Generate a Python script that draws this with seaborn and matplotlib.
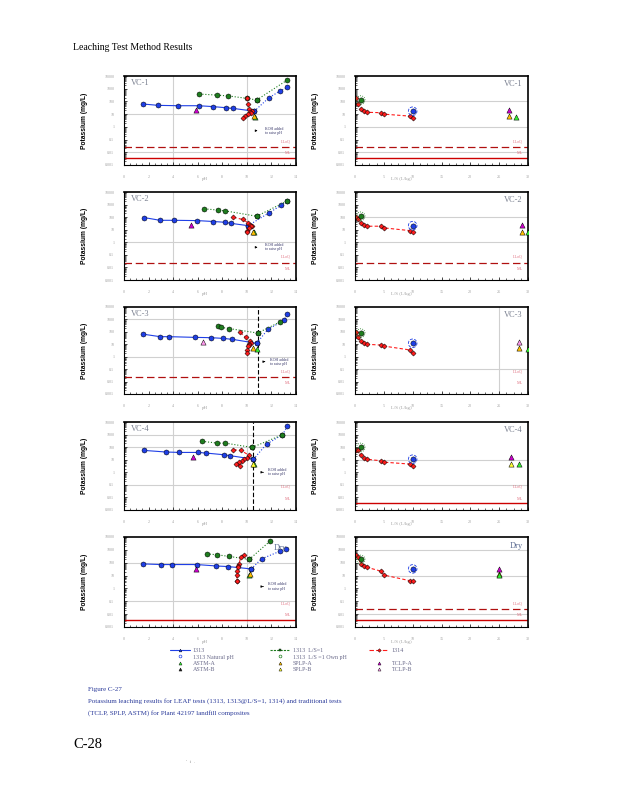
import numpy as np
import pandas as pd
import matplotlib
matplotlib.use("Agg")
import matplotlib.pyplot as plt
from matplotlib.lines import Line2D
from matplotlib.ticker import FixedLocator, NullFormatter, MultipleLocator, LogLocator
import seaborn as sns

panels = ["VC-1", "VC-2", "VC-3", "VC-4", "Dry"]

# Method 1313 (pH dependence); index of natural pH point, later points are KOH-raised
m1313_ph = {
    "VC-1": [1.52, 2.8, 4.43, 6.09, 7.28, 8.29, 8.91, 10.6, 11.8, 12.7, 13.3],
    "VC-2": [1.63, 2.93, 4.08, 5.98, 7.28, 8.23, 8.72, 10.1, 11.8, 12.77, 13.26],
    "VC-3": [1.52, 2.93, 3.7, 5.79, 7.09, 8.02, 8.83, 10.8, 11.7, 13.04, 13.3],
    "VC-4": [1.63, 3.42, 4.51, 6.0, 6.66, 8.1, 8.64, 10.54, 11.6, 12.9, 13.3],
    "Dry": [1.52, 2.99, 3.89, 5.92, 7.5, 8.5, 10.35, 11.2, 12.66, 13.2],
}
m1313_k = {
    "VC-1": [63, 49, 46, 46, 39, 32, 28, 17, 196, 660, 1250],
    "VC-2": [93, 56, 56, 53, 45, 39, 32, 21, 218, 850, 1900],
    "VC-3": [66, 41, 41, 36, 34, 30, 25, 12, 155, 870, 2600],
    "VC-4": [55, 41, 38, 38, 34, 25, 21, 11, 174, 970, 4500],
    "Dry": [81, 72, 72, 72, 56, 50, 33, 200, 760, 1070],
}
m1313_nat = {"VC-1": 7, "VC-2": 7, "VC-3": 7, "VC-4": 7, "Dry": 6}
m1313_ls = 10.0

# Method 1313 at L/S=1; index of the own-pH point
ls1_ph = {
    "VC-1": [6.14, 7.55, 8.5, 10.0, 10.8, 13.3],
    "VC-2": [6.55, 7.69, 8.23, 10.8, 13.26],
    "VC-3": [7.69, 7.9, 8.56, 10.87, 12.7],
    "VC-4": [6.36, 7.6, 8.23, 10.43, 12.9],
    "Dry": [6.74, 7.55, 8.56, 10.19, 11.9],
}
ls1_k = {
    "VC-1": [380, 316, 270, 175, 129, 4900],
    "VC-2": [457, 363, 316, 118, 1900],
    "VC-3": [288, 225, 186, 80, 630],
    "VC-4": [290, 210, 210, 95, 970],
    "Dry": [490, 415, 310, 180, 4900],
}
ls1_own = {"VC-1": 4, "VC-2": 3, "VC-3": 3, "VC-4": 3, "Dry": 3}
ls1_ls = 1.0

# Method 1314 (percolation column)
m1314_ls = [0.2, 0.5, 1.0, 1.5, 2.0, 4.5, 5.0, 9.5, 10.0]
m1314_k = {
    "VC-1": [196, 59, 25, 17, 14, 13, 10, 7, 5.3],
    "VC-2": [98, 65, 35, 22, 19, 19, 14, 8.5, 6.2],
    "VC-3": [89, 36, 18, 12, 10, 8.7, 7.2, 3.5, 1.9],
    "VC-4": [62, 55, 22, 15, 11, 8.2, 6.4, 4.5, 2.9],
    "Dry": [415, 270, 81, 60, 45, 22, 11, 4, 4],
}
m1314_ph = {
    "VC-1": [10.0, 10.08, 10.19, 10.4, 10.27, 10.3, 10.1, 9.86, 9.65],
    "VC-2": [8.9, 9.67, 10.1, 10.27, 10.4, 10.3, 10.16, 10.0, 10.05],
    "VC-3": [9.46, 9.92, 10.27, 10.3, 10.2, 10.15, 10.1, 10.05, 10.0],
    "VC-4": [8.91, 9.51, 10.2, 10.0, 9.73, 9.6, 9.4, 9.13, 9.46],
    "Dry": [9.73, 9.5, 9.37, 9.3, 9.24, 9.2, 9.18, 9.18, 9.2],
}

# Traditional single-point tests
trad_name = {
    "VC-1": ["TCLP-A", "SPLP-A", "ASTM-A"],
    "VC-2": ["TCLP-A", "SPLP-A", "ASTM-A"],
    "VC-3": ["TCLP-B", "SPLP-A", "ASTM-A"],
    "VC-4": ["TCLP-A", "SPLP-B", "ASTM-A"],
    "Dry": ["TCLP-A", "SPLP-A", "ASTM-A"],
}
trad_ph = {
    "VC-1": [5.87, 10.6, 10.7], "VC-2": [5.46, 10.5, 10.6], "VC-3": [6.41, 10.5, 10.8],
    "VC-4": [5.6, 10.54, 10.6], "Dry": [5.87, 10.27, 10.19],
}
trad_ls = {
    "VC-1": [26.7, 26.7, 27.9], "VC-2": [28.9, 28.9, 30.0], "VC-3": [28.4, 28.4, 30.0],
    "VC-4": [27.0, 27.0, 28.4], "Dry": [25.0, 25.0, 25.0],
}
trad_k = {
    "VC-1": [20, 6.8, 6.5], "VC-2": [22, 7.0, 6.6], "VC-3": [15, 4.8, 4.3],
    "VC-4": [16, 4.2, 4.2], "Dry": [30, 13, 12],
}

lloq = 0.024
ml = 0.0033

blue = "#1f3fe6"
green = "#1e7d1e"
red = "#ff1a1a"
trad_color = {"TCLP-A": "#cc00cc", "TCLP-B": "#ff99ee", "SPLP-A": "#ffc000",
              "SPLP-B": "#ffff33", "ASTM-A": "#33ee33", "ASTM-B": "#222222"}
lab_color = "#e07080"
tick_color = "#a0a0a0"

# which panels show which reference lines / grid lines (as in the scan)
lloq_left = {"VC-1", "VC-2", "VC-3"}
ml_left = {"VC-1", "Dry"}
lloq_right = {"VC-1", "VC-2", "Dry"}
ml_right = {"VC-1", "VC-4", "Dry"}
grid_left = {"VC-1": [10, 0.01], "VC-2": [1], "VC-3": [1000, 1], "VC-4": [1000, 100, 0.1], "Dry": [100, 0.1]}
grid_right = {"VC-1": [100, 1, 0.01], "VC-2": [100, 1], "VC-3": [0.1], "VC-4": [10, 0.1], "Dry": [1000, 10, 0.01]}
vdash = {"VC-3": 10.9, "VC-4": 10.54}
koh = {"VC-1": (10.5, 0.5, 1.0), "VC-2": (10.5, 0.4, 1.0), "VC-3": (11.2, 0.4, 0.5),
       "VC-4": (11.1, 1.0, 0.4), "Dry": (11.1, 1.4, 0.4)}

rows = [(76, 165), (192, 280), (307, 394), (422, 510), (537, 627)]
W, H = 618, 800

sns.set_style("white")
plt.rcParams["font.family"] = ["Liberation Serif", "DejaVu Serif"]

fig = plt.figure(figsize=(W / 100, H / 100), dpi=100)


def line(ax, x, y, color, ls, marker, ms):
    sns.lineplot(x=x, y=y, ax=ax, color=color, linestyle=ls, linewidth=0.8, marker=marker,
                 markersize=ms, markeredgecolor="k", markeredgewidth=0.35, sort=False,
                 estimator=None, legend=False)


def style_axis(ax, xmax, xstep, xminor):
    ax.set_yscale("log")
    ax.set_ylim(1e-3, 1e4)
    ax.set_xlim(0, xmax)
    ax.yaxis.set_major_locator(FixedLocator([10.0 ** e for e in range(-3, 5)]))
    ax.set_yticklabels(["0.001", "0.01", "0.1", "1", "10", "100", "1000", "10000"])
    ax.yaxis.set_minor_locator(LogLocator(base=10, subs=np.arange(2, 10)))
    ax.yaxis.set_minor_formatter(NullFormatter())
    ax.xaxis.set_major_locator(MultipleLocator(xstep))
    ax.xaxis.set_minor_locator(MultipleLocator(xminor))
    ax.tick_params(axis="both", which="major", direction="in", length=2.5, width=0.6,
                   labelsize=3, labelcolor=tick_color, pad=7)
    ax.tick_params(axis="both", which="minor", direction="in", length=1.2, width=0.5)
    ax.tick_params(axis="x", which="both", bottom=True)
    ax.tick_params(axis="y", which="both", left=True)
    for s in ax.spines.values():
        s.set_color("k")
        s.set_linewidth(0.8)
    ax.spines["top"].set_linewidth(1.2)
    ax.spines["right"].set_linewidth(1.2)


for i, p in enumerate(panels):
    t, b = rows[i]
    axl = fig.add_axes([124 / W, 1 - b / H, 172 / W, (b - t) / H])
    axr = fig.add_axes([355 / W, 1 - b / H, 173 / W, (b - t) / H])
    style_axis(axl, 14, 2, 0.5)
    style_axis(axr, 30, 5, 1.25)

    # ---- left: concentration vs pH
    for g in grid_left[p]:
        axl.axhline(g, color="#d0d0d0", lw=0.8, zorder=0)
    for g in [4, 10]:
        axl.axvline(g, color="#d0d0d0", lw=0.8, zorder=0)
    if p in vdash:
        axl.axvline(vdash[p], color="k", lw=0.8, ls=(0, (4, 2)), zorder=1)
    if p in lloq_left:
        axl.axhline(lloq, color="#b01010", lw=0.9, ls=(0, (6, 3)))
    if p in ml_left:
        axl.axhline(ml, color="#cc0000", lw=1.0)

    n = m1313_nat[p]
    line(axl, m1313_ph[p][:n + 1], m1313_k[p][:n + 1], blue, "-", "o", 3.6)
    line(axl, m1313_ph[p][n:], m1313_k[p][n:], blue, ":", "o", 3.6)
    o = ls1_own[p]
    line(axl, ls1_ph[p][:o + 1], ls1_k[p][:o + 1], green, ":", "o", 3.6)
    line(axl, ls1_ph[p][o:], ls1_k[p][o:], green, ":", "o", 3.6)
    line(axl, m1314_ph[p], m1314_k[p], red, (0, (3, 2)), "D", 2.6)

    tr = pd.DataFrame({"test": trad_name[p], "ph": trad_ph[p], "ls": trad_ls[p], "k": trad_k[p]})
    for _, r in tr.iloc[::-1].iterrows():
        sns.scatterplot(x=[r["ph"]], y=[r["k"]], ax=axl, marker="^", s=14, color=trad_color[r["test"]],
                        edgecolor="k", linewidth=0.35, zorder=5, legend=False)

    kx, ky, ka = koh[p]
    axl.annotate("", xy=(kx + ka * 0.6, ky), xytext=(kx, ky),
                 arrowprops=dict(arrowstyle="-|>", lw=0.5, color="k", mutation_scale=3))
    axl.text(kx + ka * 0.6 + 0.35, ky, "KOH added\nto raise pH", fontsize=2.8, color="#333366",
             va="center", ha="left", linespacing=1.1)

    # ---- right: concentration vs L/S
    for g in grid_right[p]:
        axr.axhline(g, color="#d0d0d0", lw=0.8, zorder=0)
    if p == "VC-3":
        axr.axvline(25, color="#d0d0d0", lw=0.8, zorder=0)
    if p in lloq_right:
        axr.axhline(lloq, color="#b01010", lw=0.9, ls=(0, (6, 3)))
    if p in ml_right:
        axr.axhline(ml, color="#cc0000", lw=1.0)

    line(axr, m1314_ls, m1314_k[p], red, (0, (3, 2)), "D", 2.6)
    sns.scatterplot(x=[ls1_ls], y=[ls1_k[p][o]], ax=axr, marker="o", s=14, color=green,
                    edgecolor="k", linewidth=0.35, zorder=6, legend=False)
    sns.scatterplot(x=[ls1_ls], y=[ls1_k[p][o]], ax=axr, marker="o", s=38, facecolor="none",
                    edgecolor=green, linewidth=0.6, linestyle=":", zorder=6, legend=False)
    sns.scatterplot(x=[m1313_ls], y=[m1313_k[p][n]], ax=axr, marker="o", s=14, color=blue,
                    edgecolor="k", linewidth=0.35, zorder=6, legend=False)
    sns.scatterplot(x=[m1313_ls], y=[m1313_k[p][n]], ax=axr, marker="o", s=38, facecolor="none",
                    edgecolor=blue, linewidth=0.6, linestyle="--", zorder=6, legend=False)
    for _, r in tr.iterrows():
        sns.scatterplot(x=[r["ls"]], y=[r["k"]], ax=axr, marker="^", s=14, color=trad_color[r["test"]],
                        edgecolor="k", linewidth=0.35, zorder=5, legend=False)

    for ax in (axl, axr):
        ax.text(0.97, lloq * 2.0, "LLoQ", transform=ax.get_yaxis_transform(), fontsize=3,
                color=lab_color, ha="right", va="bottom")
        ax.text(0.97, ml * 1.7, "ML", transform=ax.get_yaxis_transform(), fontsize=3,
                color=lab_color, ha="right", va="bottom")
        ax.set_ylabel("Potassium (mg/L)", family=["Liberation Sans", "DejaVu Sans"],
                      fontsize=4.8, fontweight="bold", color="k")
        ax.yaxis.set_label_coords(-0.21, 0.5)
    axl.set_xlabel("pH", fontsize=3.5, color=tick_color)
    axl.xaxis.set_label_coords(0.47, -0.14)
    axr.set_xlabel("L/S (L/kg)", fontsize=3.5, color=tick_color)
    axr.xaxis.set_label_coords(0.27, -0.14)

    if p == "Dry":
        axl.text(0.95, 0.92, p, transform=axl.transAxes, fontsize=6, color="#5a6a90", ha="right", va="top")
    else:
        axl.text(0.04, 0.97, p, transform=axl.transAxes, fontsize=6, color="#7a8090", ha="left", va="top")
    axr.text(0.97, 0.95, p, transform=axr.transAxes, fontsize=6,
             color="#5a6a90" if p == "Dry" else "#7a8090", ha="right", va="top")

# ---- legend, three columns
leg_text = "#6a6a8a"
cols = [
    [Line2D([], [], color=blue, lw=0.8, marker="^", ms=2, mec="k", mew=0.3),
     Line2D([], [], color=blue, lw=0, marker="o", ms=2, mfc="none", mec=blue, mew=0.5),
     Line2D([], [], lw=0, marker="^", ms=2.2, color=trad_color["ASTM-A"], mec="k", mew=0.3),
     Line2D([], [], lw=0, marker="^", ms=2.2, color=trad_color["ASTM-B"], mec="k", mew=0.3)],
    [Line2D([], [], color=green, lw=0.8, ls=(0, (2, 1)), marker="s", ms=2, mec="k", mew=0.3),
     Line2D([], [], color=green, lw=0, marker="o", ms=2, mfc="none", mec=green, mew=0.5),
     Line2D([], [], lw=0, marker="^", ms=2.2, color=trad_color["SPLP-A"], mec="k", mew=0.3),
     Line2D([], [], lw=0, marker="^", ms=2.2, color=trad_color["SPLP-B"], mec="k", mew=0.3)],
    [Line2D([], [], color=red, lw=0.8, ls=(0, (4, 2)), marker="D", ms=1.8, mec="k", mew=0.3),
     Line2D([], [], lw=0),
     Line2D([], [], lw=0, marker="^", ms=2.2, color=trad_color["TCLP-A"], mec="k", mew=0.3),
     Line2D([], [], lw=0, marker="^", ms=2.2, color=trad_color["TCLP-B"], mec="k", mew=0.3)],
]
labels = [["1313", "1313 Natural pH", "ASTM-A", "ASTM-B"],
          ["1313  L/S=1", "1313  L/S =1 Own pH", "SPLP-A", "SPLP-B"],
          ["1314", " ", "TCLP-A", "TCLP-B"]]
for j, x0 in enumerate([170, 270, 369]):
    lg = fig.legend(cols[j], labels[j], loc="upper left", bbox_to_anchor=(x0 / W, 1 - 648 / H),
                    frameon=False, fontsize=4.3, handlelength=3.4, handletextpad=0.4,
                    labelspacing=0.2, borderpad=0, borderaxespad=0)
    for tx in lg.get_texts():
        tx.set_color(leg_text)

# ---- page text
fig.text(73 / W, 1 - 48 / H, "Leaching Test Method Results", fontsize=7, color="k", va="center")
cap = "#2a3a9a"
fig.text(88 / W, 1 - 689 / H, "Figure C-27", fontsize=5, color=cap, va="center")
fig.text(88 / W, 1 - 701 / H, "Potassium leaching results for LEAF tests (1313, 1313@L/S=1, 1314) and traditional tests",
         fontsize=5, color=cap, va="center")
fig.text(88 / W, 1 - 713 / H, "(TCLP, SPLP, ASTM) for Plant 42197 landfill composites", fontsize=5, color=cap, va="center")
fig.text(73 / W, 1 - 745 / H, "C-28", fontsize=10.5, color="k", va="center")
fig.text(186 / W, 1 - 762 / H, "'   i   .", fontsize=3, color="#777777", va="center")

fig.savefig("out.png", dpi=100)
